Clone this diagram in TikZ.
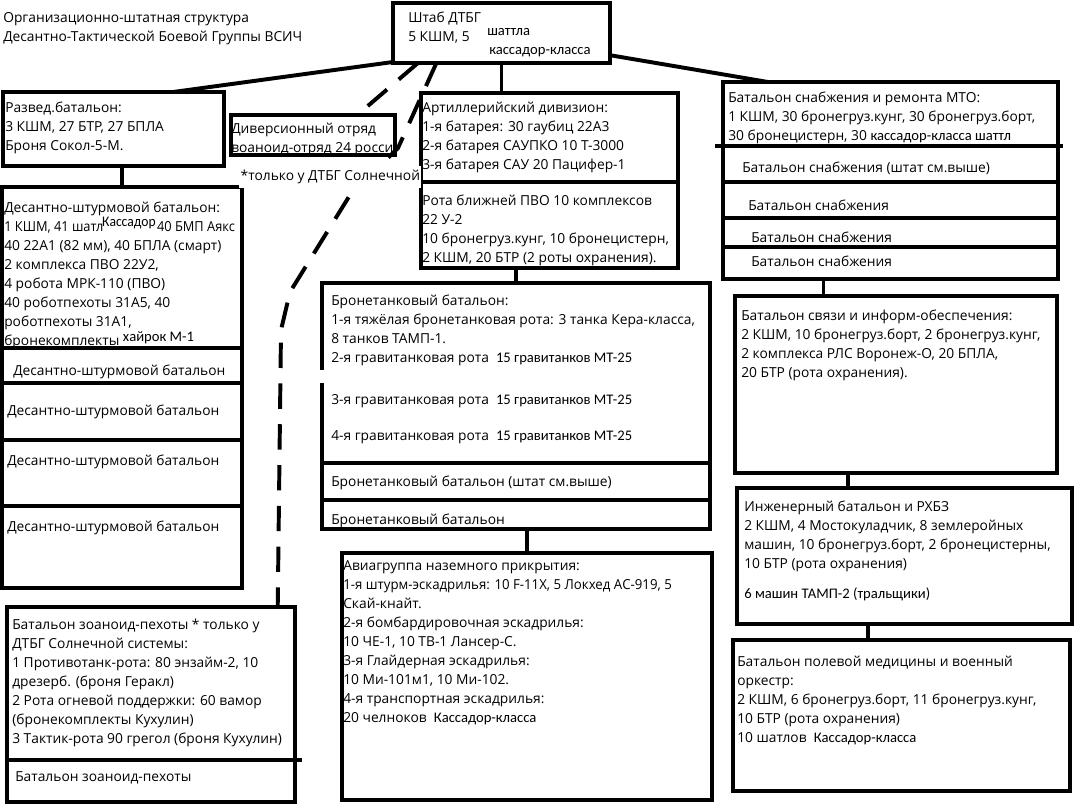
\documentclass[tikz,border=0pt]{standalone}
\usepackage{fontspec}
\setmainfont{Open Sans}
\newfontfamily\calfont{Carlito}
\usetikzlibrary{calc, positioning}
\newcommand\sm[1]{{\fontsize{10.4}{13.5}\selectfont\calfont #1}}

\begin{document}
\begin{tikzpicture}[x=0.025cm, y=-0.025cm]
		% Styles for boxes, texts and links
		\tikzset{unit/.style n args={2}{draw, line width=2.8pt, anchor=north west, inner sep=0pt, outer sep=0pt, minimum width=#1*0.025cm, minimum height=#2*0.025cm}}
		\tikzset{txt/.style={anchor=north west, inner sep=0pt, yshift=-0.05cm, align=left, font=\fontsize{9.8}{13.5}\selectfont, execute at begin node=\strut}}
		\tikzset{small/.style={txt, font=\fontsize{10.4}{13.5}\selectfont\calfont}}
		\tikzset{link/.style={line width=2.8pt}}
		\tikzset{dlink/.style={line width=2.8pt, dash pattern=on 18pt off 11pt}}
		\tikzset{rule/.style={line width=2.6pt}}
		
		\useasboundingbox (0,0) rectangle (1083,808);
		
		% Title
		\node[txt] (title) at (3,10) {Организационно-штатная структура\\Десантно-Тактической Боевой Группы ВСИЧ};
		
		% --- Boxes ---
		\node[unit={217}{60}]  (hq)     at (393,3) {};
		\node[unit={221}{74}]  (razv)   at (3,92) {};
		\node[unit={164}{40}]  (divers) at (231,115) {};
		\node[unit={257}{175}] (art)    at (421,93) {};
		\node[unit={335}{197}] (mto)    at (723,82) {};
		\node[unit={322}{177}] (svyaz)  at (735,296) {};
		\node[unit={335}{136}] (eng)    at (737,488) {};
		\node[unit={337}{151}] (med)    at (733,640) {};
		\node[unit={240}{401}] (desant) at (2,187) {};
		\node[unit={388}{246}] (brone)  at (322,283) {};
		\node[unit={370}{247}] (avia)   at (342,553) {};
		\node[unit={288}{195}] (zoan)   at (7,607) {};
		
		% Dividers
		\draw[rule] (art.west |- 0,182) -- (art.east |- 0,182);
		\draw[rule] (715,146) -- (1063,146);
		\draw[rule] (mto.west |- 0,182) -- (mto.east |- 0,182);
		\draw[rule] (mto.west |- 0,218) -- (mto.east |- 0,218);
		\draw[rule] (mto.west |- 0,247) -- (mto.east |- 0,247);
		\draw[rule] (desant.west |- 0,348) -- (desant.east |- 0,348);
		\draw[rule] (desant.west |- 0,383) -- (desant.east |- 0,383);
		\draw[rule] (desant.west |- 0,440) -- (desant.east |- 0,440);
		\draw[rule] (desant.west |- 0,506) -- (desant.east |- 0,506);
		\draw[rule] (brone.west |- 0,463) -- (brone.east |- 0,463);
		\draw[rule] (brone.west |- 0,500) -- (brone.east |- 0,500);
		\draw[rule] (zoan.west |- 0,760) -- (302,760);
		\fill[white] (318,370) rectangle (327,383); % gap in the border
		
		% Links
		\draw[link] ($(hq.south west)+(0,-1)$) -- ($(razv.north west)!0.77!(razv.north east)$);
		\draw[link] (hq.south) -- (hq.south |- art.north);
		\draw[link] ($(hq.north east)!0.87!(hq.south east)$) -- ($(mto.north west)!0.134!(mto.north east)$);
		\draw[link] (desant.north |- razv.south) -- (desant.north);
		\draw[link] (brone.north |- art.south) -- (brone.north);
		\draw[link] (avia.north |- brone.south) -- (avia.north);
		\draw[link] ($(mto.south west)!0.3!(mto.south east)$) coordinate (m1) -- (m1 |- svyaz.north);
		\draw[link] ($(svyaz.south west)!0.35!(svyaz.south east)$) coordinate (s1) -- (s1 |- eng.north);
		\draw[link] ($(eng.south west)!0.39!(eng.south east)$) coordinate (e1) -- (e1 |- med.north);
		\draw[dlink] ($(hq.south west)!0.115!(hq.south east)$) -- ($(divers.north west)!0.77!(divers.north east)$);
		\draw[dlink] ($(hq.south west)!0.2!(hq.south east)$) -- (398,148) -- (350,195) -- (290,292) -- (281,330) -- ($(zoan.north west)!0.94!(zoan.north east)$);
		
		% --- Texts ---
		\node[txt] (hq-t) at (408,10) {Штаб ДТБГ\\5 КШМ, 5};
		\node[small] (hq-s1) at (487,20) {шаттла};
		\node[small] (hq-s2) at (489,39) {кассадор-класса};
		
		\node[txt] (razv-t) at (5,100) {Развед.батальон:\\3 КШМ, 27 БТР, 27 БПЛА\\Броня Сокол-5-М.};
		\node[txt] (divers-t) at (231,121) {Диверсионный отряд\\воаноид-отряд 24 росси};
		\node[txt, fill=white, inner sep=1pt] (note) at (239,164) {*только у ДТБГ Солнечной};
		
		\node[txt] (art-t1) at (422,100) {Артиллерийский дивизион:\\1-я батарея: 30 гаубиц 22А3\\2-я батарея САУПКО 10 Т-3000\\3-я батарея САУ 20 Пацифер-1};
		\node[txt] (art-t2) at (422,193) {Рота ближней ПВО 10 комплексов\\22 У-2\\10 бронегруз.кунг, 10 бронецистерн,\\2 КШМ, 20 БТР (2 роты охранения).};
		
		\node[txt] (mto-t) at (728,90) {Батальон снабжения и ремонта МТО:\\1 КШМ, 30 бронегруз.кунг, 30 бронегруз.борт,\\30 бронецистерн, 30 \sm{кассадор-класса шаттл}};
		\node[txt] (mto-r1) at (742,157) {Батальон снабжения (штат см.выше)};
		\node[txt] (mto-r2) at (748,195) {Батальон снабжения};
		\node[txt] (mto-r3) at (751,227) {Батальон снабжения};
		\node[txt] (mto-r4) at (751,251) {Батальон снабжения};
		
		\node[txt] (svyaz-t) at (741,308) {Батальон связи и информ-обеспечения:\\2 КШМ, 10 бронегруз.борт, 2 бронегруз.кунг,\\2 комплекса РЛС Воронеж-О, 20 БПЛА,\\20 БТР (рота охранения).};
		\node[txt] (eng-t) at (744,499) {Инженерный батальон и РХБЗ\\2 КШМ, 4 Мостокуладчик, 8 землеройных\\машин, 10 бронегруз.борт, 2 бронецистерны,\\10 БТР (рота охранения)};
		\node[small] (eng-s) at (744,583) {6 машин ТАМП-2 (тральщики)};
		\node[txt] (med-t) at (737,654) {Батальон полевой медицины и военный\\оркестр:\\2 КШМ, 6 бронегруз.борт, 11 бронегруз.кунг,\\10 БТР (рота охранения)\\10 шатлов \ \sm{Кассадор-класса}};
		
		\node[txt] (desant-t) at (4,200) {Десантно-штурмовой батальон:\\\scalebox{0.93}[1]{1 КШМ, 41 шатл\kern-1pt\raisebox{4pt}{\sm{Кассадор}}\kern1pt 40 БМП Аякс}\\40 22А1 (82 мм), 40 БПЛА (смарт)\\2 комплекса ПВО 22У2,\\4 робота МРК-110 (ПВО)\\40 роботпехоты 31А5, 40\\роботпехоты 31А1,\\бронекомплекты \raisebox{3pt}{\sm{хайрок М-1}}};
		\node[txt] (desant-r1) at (13,360) {Десантно-штурмовой батальон};
		\node[txt] (desant-r2) at (7,400) {Десантно-штурмовой батальон};
		\node[txt] (desant-r3) at (7,450) {Десантно-штурмовой батальон};
		\node[txt] (desant-r4) at (7,516) {Десантно-штурмовой батальон};
		
		\node[txt] (brone-t) at (331,293) {Бронетанковый батальон:\\1-я тяжёлая бронетанковая рота: 3 танка Кера-класса,\\8 танков ТАМП-1.\\2-я гравитанковая рота \ \sm{15 гравитанков МТ-25}};
		\node[txt] (brone-t3) at (331,389) {3-я гравитанковая рота \ \sm{15 гравитанков МТ-25}};
		\node[txt] (brone-t4) at (331,425) {4-я гравитанковая рота \ \sm{15 гравитанков МТ-25}};
		\node[txt] (brone-r1) at (331,471) {Бронетанковый батальон (штат см.выше)};
		\node[txt] (brone-r2) at (331,509) {Бронетанковый батальон};
		
		\node[txt] (avia-t) at (343,558) {Авиагруппа наземного прикрытия:\\\scalebox{0.96}[1]{1-я штурм-эскадрилья: 10 F-11X, 5 Локхед АС-919, 5}\\Скай-кнайт.\\2-я бомбардировочная эскадрилья:\\10 ЧЕ-1, 10 ТВ-1 Лансер-С.\\3-я Глайдерная эскадрилья:\\10 Ми-101м1, 10 Ми-102.\\4-я транспортная эскадрилья:\\20 челноков \ \sm{Кассадор-класса}};
		
		\node[txt] (zoan-t) at (12,617) {Батальон зоаноид-пехоты * только у\\ДТБГ Солнечной системы:\\1 Противотанк-рота: 80 энзайм-2, 10\\дрезерб. (броня Геракл)\\2 Рота огневой поддержки: 60 вамор\\(бронекомплекты Кухулин)\\3 Тактик-рота 90 грегол (броня Кухулин)};
		\node[txt] (zoan-r) at (15,766) {Батальон зоаноид-пехоты};
	\end{tikzpicture}
\end{document}
